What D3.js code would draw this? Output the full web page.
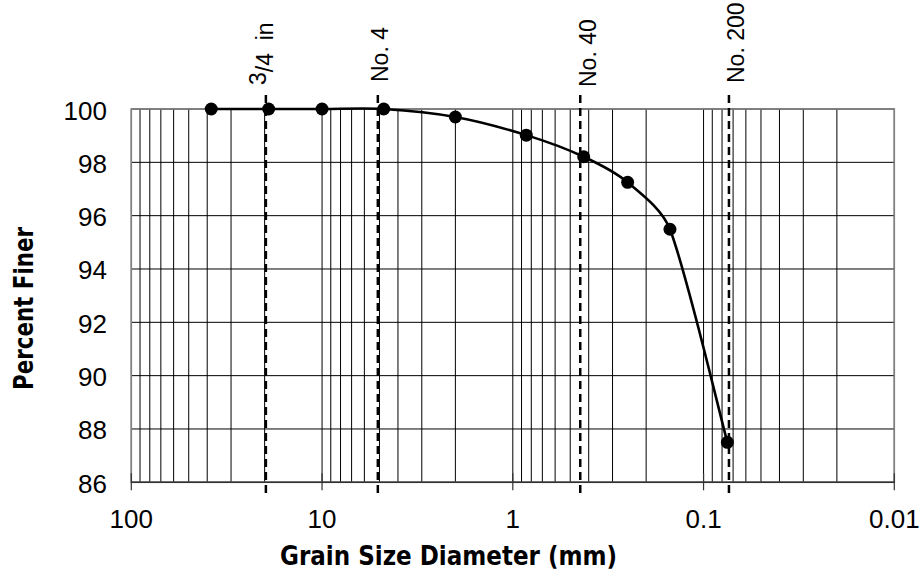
<!DOCTYPE html>
<html>
<head>
<meta charset="utf-8">
<script src="https://cdn.jsdelivr.net/npm/d3@7"></script>
<style>
  html, body { margin: 0; padding: 0; background: #fff; }
  svg { display: block; }
</style>
</head>
<body>
<svg id="chart" width="921" height="573"></svg>
<script>
// ---- data ----
const grainSize = [38.1, 19.05, 10, 4.75, 2.0, 0.85, 0.425, 0.25, 0.15, 0.075];   // mm
const percentFiner = [100, 100, 100, 100, 99.7, 99.02, 98.21, 97.25, 95.49, 87.5];
const sieveNames = ["3/4  in", "No. 4", "No. 40", "No. 200"];
const sieveLineSize = [19.7, 5.1, 0.443, 0.0736];   // mm, dashed guide lines
const guideRange = [85.6, 100.7];                    // percent, extent of guide lines
const xTickValues = [100, 10, 1, 0.1, 0.01];
const xTickLabels = ["100", "10", "1", "0.1", "0.01"];
const yTickValues = [86, 88, 90, 92, 94, 96, 98, 100];
const xTitle = "Grain Size Diameter (mm)";
const yTitle = "Percent Finer";

// ---- layout ----
const pL = 131.3, pR = 894.3, pT = 109, pB = 482.3;
const svg = d3.select("#chart");
svg.append("rect").attr("width", 921).attr("height", 573).attr("fill", "#fff");

const x = d3.scaleLog().domain([100, 0.01]).range([pL, pR]);
const y = d3.scaleLinear().domain([86, 100]).range([pB, pT]);

// minor + major vertical gridlines
const gridX = [];
for (let k = -2; k <= 1; k++) for (let m = 1; m <= 9; m++) gridX.push(m * Math.pow(10, k));
gridX.push(100);
svg.append("g").selectAll("line").data(gridX).join("line")
  .attr("x1", d => x(d)).attr("x2", d => x(d))
  .attr("y1", pT).attr("y2", pB)
  .attr("stroke", "#000").attr("stroke-width", 1);

// horizontal gridlines
svg.append("g").selectAll("line").data(yTickValues).join("line")
  .attr("x1", pL).attr("x2", pR)
  .attr("y1", d => y(d)).attr("y2", d => y(d))
  .attr("stroke", "#000").attr("stroke-width", 1);

// plot border
svg.append("rect").attr("x", pL).attr("y", pT)
  .attr("width", pR - pL).attr("height", pB - pT)
  .attr("fill", "none").attr("stroke", "#808080").attr("stroke-width", 1.6);

// x axis ticks (crossing)
svg.append("g").selectAll("line").data(xTickValues).join("line")
  .attr("x1", d => x(d)).attr("x2", d => x(d))
  .attr("y1", pB - 9).attr("y2", pB + 8)
  .attr("stroke", "#333").attr("stroke-width", 1.2);
svg.append("line").attr("x1", pL).attr("x2", pR).attr("y1", pB).attr("y2", pB)
  .attr("stroke", "#333").attr("stroke-width", 1.4);

// x tick labels
svg.append("g").selectAll("text").data(xTickValues).join("text")
  .attr("x", d => x(d)).attr("y", 528)
  .attr("text-anchor", "middle")
  .attr("font-family", "'Liberation Sans', Arial, sans-serif").attr("font-size", 26)
  .text((d, i) => xTickLabels[i]);

// y tick labels
svg.append("g").selectAll("text").data(yTickValues).join("text")
  .attr("x", 107).attr("y", d => y(d) + 10.5)
  .attr("text-anchor", "end")
  .attr("font-family", "'Liberation Sans', Arial, sans-serif").attr("font-size", 26)
  .text(d => d);

// dashed guide lines
svg.append("g").selectAll("line").data(sieveLineSize).join("line")
  .attr("x1", d => x(d)).attr("x2", d => x(d))
  .attr("y1", y(guideRange[0])).attr("y2", y(guideRange[1]))
  .attr("stroke", "#000").attr("stroke-width", 2.5)
  .attr("stroke-dasharray", "8,5");

// sieve labels (rotated)
const labelDx = [7.5, 10, 15.4, 15.3];
const labelStartY = [85, 82, 87, 83];
const sieveG = svg.append("g");
sieveLineSize.forEach((s, i) => {
  const t = sieveG.append("text")
    .attr("transform", `translate(${x(s) + labelDx[i]},${labelStartY[i]}) rotate(-90)`)
    .attr("font-family", "'Liberation Sans', Arial, sans-serif").attr("font-size", 23)
    .style("white-space", "pre");
  if (i === 0) {
    t.append("tspan").attr("dy", -7).text("3");
    t.append("tspan").attr("dy", 7).text("/4  in");
  } else {
    t.text(sieveNames[i]);
  }
});

// gradation curve: spreadsheet-style smoothed line (Bezier, 1/6 tangents, arms clamped)
const pts = grainSize.map((g, i) => [x(g), y(percentFiner[i])]);
function smoothPath(P) {
  const n = P.length, p = d3.path();
  const dist = (a, b) => Math.hypot(b[0] - a[0], b[1] - a[1]);
  const tan = P.map((pt, i) => {
    const a = P[Math.max(0, i - 1)], b = P[Math.min(n - 1, i + 1)];
    return [(b[0] - a[0]) / 6, (b[1] - a[1]) / 6];
  });
  p.moveTo(P[0][0], P[0][1]);
  for (let i = 0; i < n - 1; i++) {
    const a = P[i], b = P[i + 1], seg = dist(a, b);
    let t0 = tan[i], t1 = tan[i + 1];
    const l0 = Math.hypot(t0[0], t0[1]), l1 = Math.hypot(t1[0], t1[1]);
    const lim = seg / 3;
    const s0 = l0 > lim ? lim / l0 : 1, s1 = l1 > lim ? lim / l1 : 1;
    p.bezierCurveTo(a[0] + t0[0] * s0, a[1] + t0[1] * s0,
                    b[0] - t1[0] * s1, b[1] - t1[1] * s1, b[0], b[1]);
  }
  return p.toString();
}
svg.append("path")
  .attr("d", smoothPath(pts))
  .attr("fill", "none").attr("stroke", "#000").attr("stroke-width", 2.6);

svg.append("g").selectAll("circle").data(grainSize).join("circle")
  .attr("cx", d => x(d)).attr("cy", (d, i) => y(percentFiner[i]))
  .attr("r", 6.5).attr("fill", "#000");

// axis titles
svg.append("text").attr("x", 280).attr("y", 565)
  .attr("font-family", "'DejaVu Sans', Verdana, sans-serif").attr("font-weight", "bold")
  .attr("font-size", 27).attr("textLength", 337).attr("lengthAdjust", "spacingAndGlyphs")
  .text(xTitle);

svg.append("text").attr("transform", "translate(33,390) rotate(-90)")
  .attr("font-family", "'DejaVu Sans', Verdana, sans-serif").attr("font-weight", "bold")
  .attr("font-size", 27).attr("textLength", 163).attr("lengthAdjust", "spacingAndGlyphs")
  .text(yTitle);
</script>
</body>
</html>
